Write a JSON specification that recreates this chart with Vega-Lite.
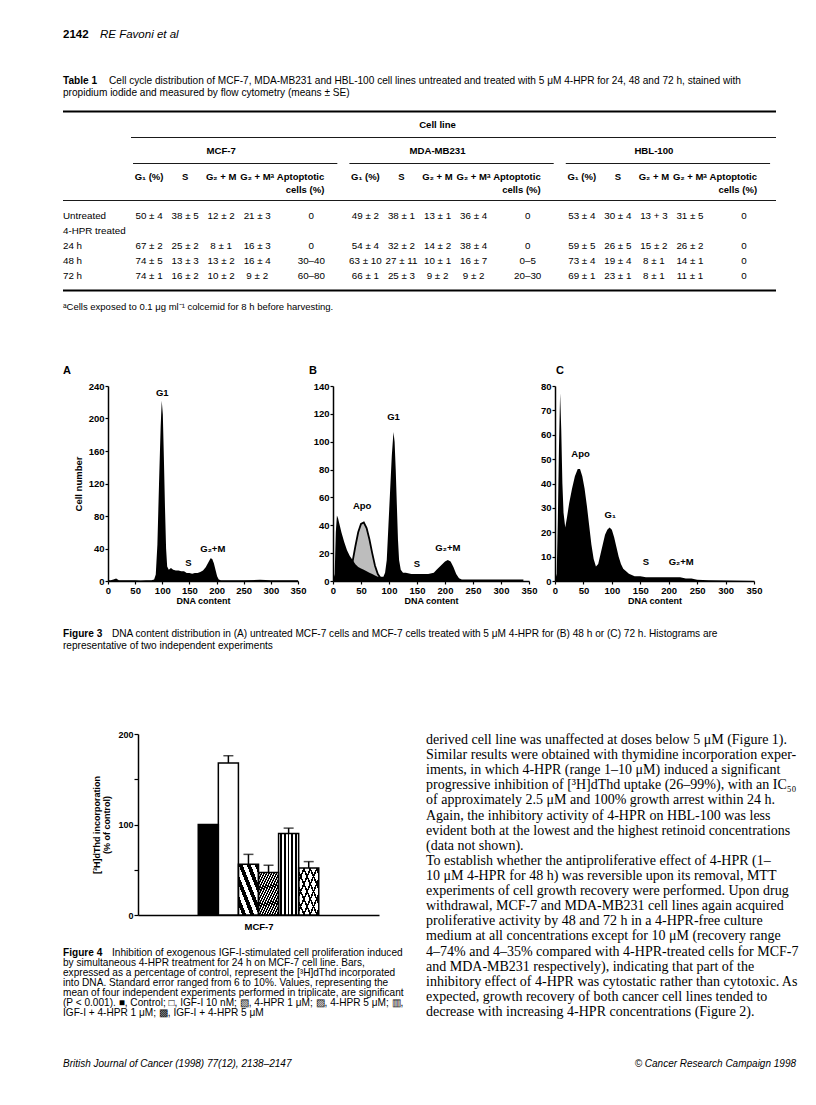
{
"$schema": "https://vega.github.io/schema/vega-lite/v6.json",
"background": "white",
"padding": {"left": 62, "top": 0, "right": 0, "bottom": 0},
"bounds": "flush",
"spacing": 0,
"config": {
  "view": {"stroke": null},
  "font": "Liberation Sans",
  "text": {"font": "Liberation Sans", "color": "black"},
  "axis": {"grid": false, "domainColor": "black", "tickColor": "black", "labelColor": "black", "titleColor": "black", "labelFont": "Liberation Sans", "titleFont": "Liberation Sans"},
  "title": {"font": "Liberation Sans", "color": "black"}
},
"datasets": {
  "header": [{"part": "page", "text": "2142"}, {"part": "author", "text": "RE Favoni et al"}],
  "tableCaption": [
    {"line": 1, "part": "label", "text": "Table 1"},
    {"line": 1, "part": "first", "text": "Cell cycle distribution of MCF-7, MDA-MB231 and HBL-100 cell lines untreated and treated with 5 μM 4-HPR for 24, 48 and 72 h, stained with"},
    {"line": 2, "part": "rest", "text": "propidium iodide and measured by flow cytometry (means ± SE)"}
  ],
  "headRules": [{"row": "top", "kind": "thick"}, {"row": "rule2", "kind": "thin"}],
  "groupRules": [
    {"row": "rule3", "from": "MCF-7 G1", "to": "f11"},
    {"row": "rule3", "from": "MDA-MB231 G1", "to": "f23"},
    {"row": "rule3", "from": "HBL-100 G1", "to": "f35"}
  ],
  "groupLabels": [
    {"row": "cellline", "col": "MDA-MB231 G2M", "text": "Cell line"},
    {"row": "group", "col": "MCF-7 G2M", "text": "MCF-7"},
    {"row": "group", "col": "MDA-MB231 G2M", "text": "MDA-MB231"},
    {"row": "group", "col": "HBL-100 G2M", "text": "HBL-100"}
  ],
  "colHeaders": [
    {"row": "hdr1", "col": "MCF-7 G1", "kind": "phase", "text": "G₁ (%)"},
    {"row": "hdr1", "col": "MCF-7 S", "kind": "phase", "text": "S"},
    {"row": "hdr1", "col": "MCF-7 G2M", "kind": "phase", "text": "G₂ + M"},
    {"row": "hdr1", "col": "MCF-7 G2Ma", "kind": "phase", "text": "G₂ + Mᵃ"},
    {"row": "hdr1", "col": "MCF-7 Apo", "kind": "apo", "text": "Aptoptotic"},
    {"row": "hdr2", "col": "MCF-7 Apo", "kind": "apo", "text": "cells (%)"},
    {"row": "hdr1", "col": "MDA-MB231 G1", "kind": "phase", "text": "G₁ (%)"},
    {"row": "hdr1", "col": "MDA-MB231 S", "kind": "phase", "text": "S"},
    {"row": "hdr1", "col": "MDA-MB231 G2M", "kind": "phase", "text": "G₂ + M"},
    {"row": "hdr1", "col": "MDA-MB231 G2Ma", "kind": "phase", "text": "G₂ + Mᵃ"},
    {"row": "hdr1", "col": "MDA-MB231 Apo", "kind": "apo", "text": "Aptoptotic"},
    {"row": "hdr2", "col": "MDA-MB231 Apo", "kind": "apo", "text": "cells (%)"},
    {"row": "hdr1", "col": "HBL-100 G1", "kind": "phase", "text": "G₁ (%)"},
    {"row": "hdr1", "col": "HBL-100 S", "kind": "phase", "text": "S"},
    {"row": "hdr1", "col": "HBL-100 G2M", "kind": "phase", "text": "G₂ + M"},
    {"row": "hdr1", "col": "HBL-100 G2Ma", "kind": "phase", "text": "G₂ + Mᵃ"},
    {"row": "hdr1", "col": "HBL-100 Apo", "kind": "apo", "text": "Aptoptotic"},
    {"row": "hdr2", "col": "HBL-100 Apo", "kind": "apo", "text": "cells (%)"}
  ],
  "bodyRules": [{"row": "rule4", "kind": "thin"}, {"row": "bottom", "kind": "thick"}],
  "rowLabels": [
    {"row": "untreated", "text": "Untreated"},
    {"row": "hpr", "text": "4-HPR treated"},
    {"row": "24h", "text": "\u00a0\u00a0\u00a024 h"},
    {"row": "48h", "text": "\u00a0\u00a0\u00a048 h"},
    {"row": "72h", "text": "\u00a0\u00a0\u00a072 h"}
  ],
  "tableValues": [
    {"row": "untreated", "col": "MCF-7 G1", "text": "50 ± 4"},
    {"row": "untreated", "col": "MCF-7 S", "text": "38 ± 5"},
    {"row": "untreated", "col": "MCF-7 G2M", "text": "12 ± 2"},
    {"row": "untreated", "col": "MCF-7 G2Ma", "text": "21 ± 3"},
    {"row": "untreated", "col": "MCF-7 Apo", "text": "0"},
    {"row": "untreated", "col": "MDA-MB231 G1", "text": "49 ± 2"},
    {"row": "untreated", "col": "MDA-MB231 S", "text": "38 ± 1"},
    {"row": "untreated", "col": "MDA-MB231 G2M", "text": "13 ± 1"},
    {"row": "untreated", "col": "MDA-MB231 G2Ma", "text": "36 ± 4"},
    {"row": "untreated", "col": "MDA-MB231 Apo", "text": "0"},
    {"row": "untreated", "col": "HBL-100 G1", "text": "53 ± 4"},
    {"row": "untreated", "col": "HBL-100 S", "text": "30 ± 4"},
    {"row": "untreated", "col": "HBL-100 G2M", "text": "13 + 3"},
    {"row": "untreated", "col": "HBL-100 G2Ma", "text": "31 ± 5"},
    {"row": "untreated", "col": "HBL-100 Apo", "text": "0"},
    {"row": "24h", "col": "MCF-7 G1", "text": "67 ± 2"},
    {"row": "24h", "col": "MCF-7 S", "text": "25 ± 2"},
    {"row": "24h", "col": "MCF-7 G2M", "text": "8 ± 1"},
    {"row": "24h", "col": "MCF-7 G2Ma", "text": "16 ± 3"},
    {"row": "24h", "col": "MCF-7 Apo", "text": "0"},
    {"row": "24h", "col": "MDA-MB231 G1", "text": "54 ± 4"},
    {"row": "24h", "col": "MDA-MB231 S", "text": "32 ± 2"},
    {"row": "24h", "col": "MDA-MB231 G2M", "text": "14 ± 2"},
    {"row": "24h", "col": "MDA-MB231 G2Ma", "text": "38 ± 4"},
    {"row": "24h", "col": "MDA-MB231 Apo", "text": "0"},
    {"row": "24h", "col": "HBL-100 G1", "text": "59 ± 5"},
    {"row": "24h", "col": "HBL-100 S", "text": "26 ± 5"},
    {"row": "24h", "col": "HBL-100 G2M", "text": "15 ± 2"},
    {"row": "24h", "col": "HBL-100 G2Ma", "text": "26 ± 2"},
    {"row": "24h", "col": "HBL-100 Apo", "text": "0"},
    {"row": "48h", "col": "MCF-7 G1", "text": "74 ± 5"},
    {"row": "48h", "col": "MCF-7 S", "text": "13 ± 3"},
    {"row": "48h", "col": "MCF-7 G2M", "text": "13 ± 2"},
    {"row": "48h", "col": "MCF-7 G2Ma", "text": "16 ± 4"},
    {"row": "48h", "col": "MCF-7 Apo", "text": "30–40"},
    {"row": "48h", "col": "MDA-MB231 G1", "text": "63 ± 10"},
    {"row": "48h", "col": "MDA-MB231 S", "text": "27 ± 11"},
    {"row": "48h", "col": "MDA-MB231 G2M", "text": "10 ± 1"},
    {"row": "48h", "col": "MDA-MB231 G2Ma", "text": "16 ± 7"},
    {"row": "48h", "col": "MDA-MB231 Apo", "text": "0–5"},
    {"row": "48h", "col": "HBL-100 G1", "text": "73 ± 4"},
    {"row": "48h", "col": "HBL-100 S", "text": "19 ± 4"},
    {"row": "48h", "col": "HBL-100 G2M", "text": "8 ± 1"},
    {"row": "48h", "col": "HBL-100 G2Ma", "text": "14 ± 1"},
    {"row": "48h", "col": "HBL-100 Apo", "text": "0"},
    {"row": "72h", "col": "MCF-7 G1", "text": "74 ± 1"},
    {"row": "72h", "col": "MCF-7 S", "text": "16 ± 2"},
    {"row": "72h", "col": "MCF-7 G2M", "text": "10 ± 2"},
    {"row": "72h", "col": "MCF-7 G2Ma", "text": "9 ± 2"},
    {"row": "72h", "col": "MCF-7 Apo", "text": "60–80"},
    {"row": "72h", "col": "MDA-MB231 G1", "text": "66 ± 1"},
    {"row": "72h", "col": "MDA-MB231 S", "text": "25 ± 3"},
    {"row": "72h", "col": "MDA-MB231 G2M", "text": "9 ± 2"},
    {"row": "72h", "col": "MDA-MB231 G2Ma", "text": "9 ± 2"},
    {"row": "72h", "col": "MDA-MB231 Apo", "text": "20–30"},
    {"row": "72h", "col": "HBL-100 G1", "text": "69 ± 1"},
    {"row": "72h", "col": "HBL-100 S", "text": "23 ± 1"},
    {"row": "72h", "col": "HBL-100 G2M", "text": "8 ± 1"},
    {"row": "72h", "col": "HBL-100 G2Ma", "text": "11 ± 1"},
    {"row": "72h", "col": "HBL-100 Apo", "text": "0"}
  ],
  "footnote": [{"text": "ᵃCells exposed to 0.1 μg ml⁻¹ colcemid for 8 h before harvesting."}],
  "fig3A": [
    {"dna": 0, "count": 1}, {"dna": 5, "count": 1}, {"dna": 10, "count": 2}, {"dna": 15, "count": 3}, {"dna": 20, "count": 1}, {"dna": 30, "count": 1}, {"dna": 40, "count": 1}, {"dna": 50, "count": 1}, {"dna": 60, "count": 0.5}, {"dna": 70, "count": 1}, {"dna": 80, "count": 1}, {"dna": 85, "count": 2}, {"dna": 88, "count": 8}, {"dna": 91, "count": 45}, {"dna": 94, "count": 120}, {"dna": 97, "count": 190}, {"dna": 99, "count": 222}, {"dna": 101, "count": 205}, {"dna": 103, "count": 150}, {"dna": 105, "count": 90}, {"dna": 107, "count": 40}, {"dna": 109, "count": 18}, {"dna": 112, "count": 14}, {"dna": 116, "count": 16}, {"dna": 120, "count": 14}, {"dna": 125, "count": 13}, {"dna": 130, "count": 13}, {"dna": 135, "count": 12}, {"dna": 140, "count": 12}, {"dna": 145, "count": 10}, {"dna": 150, "count": 10}, {"dna": 155, "count": 9}, {"dna": 160, "count": 10}, {"dna": 165, "count": 10}, {"dna": 170, "count": 11}, {"dna": 175, "count": 13}, {"dna": 180, "count": 17}, {"dna": 185, "count": 23}, {"dna": 189, "count": 28}, {"dna": 192, "count": 27}, {"dna": 195, "count": 22}, {"dna": 198, "count": 14}, {"dna": 201, "count": 6}, {"dna": 204, "count": 2}, {"dna": 208, "count": 1}, {"dna": 220, "count": 1}, {"dna": 250, "count": 1}, {"dna": 280, "count": 1.5}, {"dna": 300, "count": 1}, {"dna": 320, "count": 1}, {"dna": 340, "count": 1}, {"dna": 350, "count": 1}
  ],
  "fig3ALabels": [{"dna": 100, "count": 232, "label": "G1"}, {"dna": 148, "count": 22, "label": "S"}, {"dna": 193, "count": 40, "label": "G₂+M"}],
  "fig3B": [
    {"dna": 0, "count": 0}, {"dna": 3, "count": 5}, {"dna": 5, "count": 35}, {"dna": 7, "count": 47}, {"dna": 9, "count": 45}, {"dna": 12, "count": 40}, {"dna": 15, "count": 35}, {"dna": 20, "count": 28}, {"dna": 25, "count": 22}, {"dna": 30, "count": 18}, {"dna": 35, "count": 15}, {"dna": 40, "count": 12}, {"dna": 45, "count": 10}, {"dna": 50, "count": 9}, {"dna": 55, "count": 8}, {"dna": 60, "count": 7}, {"dna": 65, "count": 6}, {"dna": 70, "count": 5}, {"dna": 75, "count": 4}, {"dna": 80, "count": 3}, {"dna": 85, "count": 3}, {"dna": 90, "count": 3}, {"dna": 93, "count": 6}, {"dna": 96, "count": 15}, {"dna": 99, "count": 40}, {"dna": 102, "count": 65}, {"dna": 105, "count": 90}, {"dna": 108, "count": 107}, {"dna": 110, "count": 100}, {"dna": 112, "count": 80}, {"dna": 114, "count": 55}, {"dna": 116, "count": 30}, {"dna": 118, "count": 15}, {"dna": 121, "count": 8}, {"dna": 125, "count": 6}, {"dna": 130, "count": 6}, {"dna": 140, "count": 5}, {"dna": 150, "count": 5}, {"dna": 160, "count": 5}, {"dna": 170, "count": 5}, {"dna": 180, "count": 6}, {"dna": 185, "count": 8}, {"dna": 190, "count": 10}, {"dna": 195, "count": 12}, {"dna": 200, "count": 14}, {"dna": 205, "count": 15}, {"dna": 210, "count": 14}, {"dna": 215, "count": 10}, {"dna": 220, "count": 5}, {"dna": 225, "count": 2}, {"dna": 230, "count": 1}, {"dna": 240, "count": 1}, {"dna": 260, "count": 1}, {"dna": 280, "count": 1}, {"dna": 300, "count": 1}, {"dna": 320, "count": 1}, {"dna": 340, "count": 1}
  ],
  "fig3BFit": [
    {"dna": 25, "count": 2}, {"dna": 30, "count": 6}, {"dna": 35, "count": 14}, {"dna": 40, "count": 25}, {"dna": 45, "count": 35}, {"dna": 50, "count": 41}, {"dna": 55, "count": 42}, {"dna": 60, "count": 38}, {"dna": 65, "count": 30}, {"dna": 70, "count": 20}, {"dna": 75, "count": 11}, {"dna": 80, "count": 5}, {"dna": 85, "count": 2}, {"dna": 90, "count": 1}
  ],
  "fig3BLabels": [{"dna": 52, "count": 54, "label": "Apo"}, {"dna": 108, "count": 118, "label": "G1"}, {"dna": 150, "count": 12, "label": "S"}, {"dna": 205, "count": 24, "label": "G₂+M"}],
  "fig3C": [
    {"dna": 0, "count": 0}, {"dna": 3, "count": 3}, {"dna": 5, "count": 25}, {"dna": 7, "count": 55}, {"dna": 9, "count": 77}, {"dna": 11, "count": 62}, {"dna": 13, "count": 40}, {"dna": 15, "count": 28}, {"dna": 18, "count": 22}, {"dna": 21, "count": 26}, {"dna": 25, "count": 32}, {"dna": 30, "count": 38}, {"dna": 35, "count": 43}, {"dna": 40, "count": 46}, {"dna": 44, "count": 46}, {"dna": 48, "count": 43}, {"dna": 52, "count": 38}, {"dna": 56, "count": 31}, {"dna": 60, "count": 23}, {"dna": 64, "count": 15}, {"dna": 68, "count": 9}, {"dna": 72, "count": 6}, {"dna": 76, "count": 7}, {"dna": 80, "count": 11}, {"dna": 84, "count": 15}, {"dna": 88, "count": 19}, {"dna": 92, "count": 21}, {"dna": 96, "count": 22}, {"dna": 100, "count": 21}, {"dna": 104, "count": 18}, {"dna": 108, "count": 14}, {"dna": 112, "count": 10}, {"dna": 116, "count": 7}, {"dna": 120, "count": 5}, {"dna": 125, "count": 4}, {"dna": 130, "count": 3}, {"dna": 140, "count": 2}, {"dna": 150, "count": 2}, {"dna": 160, "count": 1.5}, {"dna": 170, "count": 1.5}, {"dna": 180, "count": 1.5}, {"dna": 190, "count": 1.5}, {"dna": 200, "count": 1.5}, {"dna": 210, "count": 1.5}, {"dna": 220, "count": 1.5}, {"dna": 230, "count": 1}, {"dna": 240, "count": 1}, {"dna": 250, "count": 0.5}, {"dna": 270, "count": 0.3}, {"dna": 300, "count": 0.2}, {"dna": 350, "count": 0}
  ],
  "fig3CLabels": [{"dna": 45, "count": 52, "label": "Apo"}, {"dna": 97, "count": 27, "label": "G₁"}, {"dna": 160, "count": 8, "label": "S"}, {"dna": 222, "count": 8, "label": "G₂+M"}],
  "fig3Caption": [
    {"line": 1, "part": "label", "text": "Figure 3"},
    {"line": 1, "part": "first", "text": "DNA content distribution in (A) untreated MCF-7 cells and MCF-7 cells treated with 5 μM 4-HPR for (B) 48 h or (C) 72 h. Histograms are"},
    {"line": 2, "part": "rest", "text": "representative of two independent experiments"}
  ],
  "fig4": [
    {"cell": "MCF-7", "treatment": "Control", "value": 100, "upper": 100},
    {"cell": "MCF-7", "treatment": "IGF-I 10 nM", "value": 168, "upper": 176},
    {"cell": "MCF-7", "treatment": "4-HPR 1 μM", "value": 56, "upper": 67},
    {"cell": "MCF-7", "treatment": "4-HPR 5 μM", "value": 47, "upper": 55},
    {"cell": "MCF-7", "treatment": "IGF-I + 4-HPR 1 μM", "value": 90, "upper": 96},
    {"cell": "MCF-7", "treatment": "IGF-I + 4-HPR 5 μM", "value": 52, "upper": 59}
  ],
  "fig4Caption": [
    {"line": 1, "part": "label", "text": "Figure 4"},
    {"line": 1, "part": "first", "text": "Inhibition of exogenous IGF-I-stimulated cell proliferation induced"},
    {"line": 2, "part": "rest", "text": "by simultaneous 4-HPR treatment for 24 h on MCF-7 cell line. Bars,"},
    {"line": 3, "part": "rest", "text": "expressed as a percentage of control, represent the [³H]dThd incorporated"},
    {"line": 4, "part": "rest", "text": "into DNA. Standard error ranged from 6 to 10%. Values, representing the"},
    {"line": 5, "part": "rest", "text": "mean of four independent experiments performed in triplicate, are significant"},
    {"line": 6, "part": "rest", "text": "(P < 0.001). ■, Control; □, IGF-I 10 nM; ▧, 4-HPR 1 μM; ▨, 4-HPR 5 μM; ▥,"},
    {"line": 7, "part": "rest", "text": "IGF-I + 4-HPR 1 μM; ▩, IGF-I + 4-HPR 5 μM"}
  ],
  "bodyText": [
    {"line": 1, "text": "derived cell line was unaffected at doses below 5 μM (Figure 1)."},
    {"line": 2, "text": "Similar results were obtained with thymidine incorporation exper-"},
    {"line": 3, "text": "iments, in which 4-HPR (range 1–10 μM) induced a significant"},
    {"line": 4, "text": "progressive inhibition of [³H]dThd uptake (26–99%), with an IC₅₀"},
    {"line": 5, "text": "of approximately 2.5 μM and 100% growth arrest within 24 h."},
    {"line": 6, "text": "Again, the inhibitory activity of 4-HPR on HBL-100 was less"},
    {"line": 7, "text": "evident both at the lowest and the highest retinoid concentrations"},
    {"line": 8, "text": "(data not shown)."},
    {"line": 9, "text": "\u00a0\u00a0\u00a0To establish whether the antiproliferative effect of 4-HPR (1–"},
    {"line": 10, "text": "10 μM 4-HPR for 48 h) was reversible upon its removal, MTT"},
    {"line": 11, "text": "experiments of cell growth recovery were performed. Upon drug"},
    {"line": 12, "text": "withdrawal, MCF-7 and MDA-MB231 cell lines again acquired"},
    {"line": 13, "text": "proliferative activity by 48 and 72 h in a 4-HPR-free culture"},
    {"line": 14, "text": "medium at all concentrations except for 10 μM (recovery range"},
    {"line": 15, "text": "4–74% and 4–35% compared with 4-HPR-treated cells for MCF-7"},
    {"line": 16, "text": "and MDA-MB231 respectively), indicating that part of the"},
    {"line": 17, "text": "inhibitory effect of 4-HPR was cytostatic rather than cytotoxic. As"},
    {"line": 18, "text": "expected, growth recovery of both cancer cell lines tended to"},
    {"line": 19, "text": "decrease with increasing 4-HPR concentrations (Figure 2)."}
  ],
  "footer": [{"side": "left", "text": "British Journal of Cancer (1998) 77(12), 2138–2147"}, {"side": "right", "text": "© Cancer Research Campaign 1998"}]
},
"vconcat": [
  {
    "width": 754, "height": 70, "data": {"name": "header"},
    "encoding": {"x": {"datum": 0, "type": "quantitative", "scale": {"domain": [0, 1]}, "axis": null}, "text": {"field": "text"}},
    "layer": [
      {"transform": [{"filter": "datum.part == 'page'"}], "mark": {"type": "text", "align": "left", "baseline": "middle", "fontSize": 11.5, "fontWeight": "bold"}},
      {"transform": [{"filter": "datum.part == 'author'"}], "mark": {"type": "text", "align": "left", "baseline": "middle", "fontSize": 11.5, "fontStyle": "italic", "dx": 37}}
    ]
  },
  {
    "width": 754, "height": 34.5, "data": {"name": "tableCaption"},
    "encoding": {
      "x": {"datum": 0, "type": "quantitative", "scale": {"domain": [0, 1]}, "axis": null},
      "y": {"field": "line", "type": "ordinal", "scale": {"type": "point", "padding": 0.9375}, "axis": null},
      "text": {"field": "text"}
    },
    "layer": [
      {"transform": [{"filter": "datum.part == 'label'"}], "mark": {"type": "text", "align": "left", "baseline": "middle", "fontSize": 10.1, "fontWeight": "bold"}},
      {"transform": [{"filter": "datum.part == 'first'"}], "mark": {"type": "text", "align": "left", "baseline": "middle", "fontSize": 10.1, "dx": 46}},
      {"transform": [{"filter": "datum.part == 'rest'"}], "mark": {"type": "text", "align": "left", "baseline": "middle", "fontSize": 10.1}}
    ]
  },
  {
    "hconcat": [
      {
        "width": 68, "height": 91,
        "encoding": {"y": {"field": "row", "type": "ordinal", "scale": {"type": "point", "domain": ["top", "cellline", "rule2", "group", "rule3", "hdr1", "hdr2"], "padding": 0.5}, "axis": null}},
        "layer": [
          {"data": {"name": "headRules"}, "transform": [{"filter": "datum.kind == 'thick'"}], "mark": {"type": "rule", "strokeWidth": 2, "color": "black"}}
        ]
      },
      {
        "width": 645, "height": 91,
        "encoding": {"y": {"field": "row", "type": "ordinal", "scale": {"type": "point", "domain": ["top", "cellline", "rule2", "group", "rule3", "hdr1", "hdr2"], "padding": 0.5}, "axis": null}},
        "layer": [
          {"data": {"name": "headRules"}, "transform": [{"filter": "datum.kind == 'thick'"}], "mark": {"type": "rule", "strokeWidth": 2, "color": "black"}},
          {"data": {"name": "headRules"}, "transform": [{"filter": "datum.kind == 'thin'"}], "mark": {"type": "rule", "strokeWidth": 0.9, "color": "black"}},
          {"data": {"name": "groupRules"}, "mark": {"type": "rule", "strokeWidth": 0.9, "color": "black", "xOffset": -16, "x2Offset": 8},
           "encoding": {"x": {"field": "from", "type": "nominal", "scale": {"type": "point", "domain": ["f0", "MCF-7 G1", "f2", "MCF-7 S", "f4", "MCF-7 G2M", "f6", "MCF-7 G2Ma", "f8", "f9", "MCF-7 Apo", "f11", "f12", "MDA-MB231 G1", "f14", "MDA-MB231 S", "f16", "MDA-MB231 G2M", "f18", "MDA-MB231 G2Ma", "f20", "f21", "MDA-MB231 Apo", "f23", "f24", "HBL-100 G1", "f26", "HBL-100 S", "f28", "HBL-100 G2M", "f30", "HBL-100 G2Ma", "f32", "f33", "HBL-100 Apo", "f35"], "padding": 0.386, "align": 0}, "axis": null}, "x2": {"field": "to"}}},
          {"data": {"name": "groupLabels"}, "mark": {"type": "text", "baseline": "middle", "fontSize": 9.6, "fontWeight": "bold"},
           "encoding": {"x": {"field": "col", "type": "nominal", "scale": {"type": "point", "domain": ["f0", "MCF-7 G1", "f2", "MCF-7 S", "f4", "MCF-7 G2M", "f6", "MCF-7 G2Ma", "f8", "f9", "MCF-7 Apo", "f11", "f12", "MDA-MB231 G1", "f14", "MDA-MB231 S", "f16", "MDA-MB231 G2M", "f18", "MDA-MB231 G2Ma", "f20", "f21", "MDA-MB231 Apo", "f23", "f24", "HBL-100 G1", "f26", "HBL-100 S", "f28", "HBL-100 G2M", "f30", "HBL-100 G2Ma", "f32", "f33", "HBL-100 Apo", "f35"], "padding": 0.386, "align": 0}, "axis": null}, "text": {"field": "text"}}},
          {"data": {"name": "colHeaders"}, "transform": [{"filter": "datum.kind == 'phase'"}], "mark": {"type": "text", "baseline": "middle", "fontSize": 9.5, "fontWeight": "bold"},
           "encoding": {"x": {"field": "col", "type": "nominal", "scale": {"type": "point", "domain": ["f0", "MCF-7 G1", "f2", "MCF-7 S", "f4", "MCF-7 G2M", "f6", "MCF-7 G2Ma", "f8", "f9", "MCF-7 Apo", "f11", "f12", "MDA-MB231 G1", "f14", "MDA-MB231 S", "f16", "MDA-MB231 G2M", "f18", "MDA-MB231 G2Ma", "f20", "f21", "MDA-MB231 Apo", "f23", "f24", "HBL-100 G1", "f26", "HBL-100 S", "f28", "HBL-100 G2M", "f30", "HBL-100 G2Ma", "f32", "f33", "HBL-100 Apo", "f35"], "padding": 0.386, "align": 0}, "axis": null}, "text": {"field": "text"}}},
          {"data": {"name": "colHeaders"}, "transform": [{"filter": "datum.kind == 'apo'"}], "mark": {"type": "text", "baseline": "middle", "align": "right", "dx": 13, "fontSize": 9.5, "fontWeight": "bold"},
           "encoding": {"x": {"field": "col", "type": "nominal", "scale": {"type": "point", "domain": ["f0", "MCF-7 G1", "f2", "MCF-7 S", "f4", "MCF-7 G2M", "f6", "MCF-7 G2Ma", "f8", "f9", "MCF-7 Apo", "f11", "f12", "MDA-MB231 G1", "f14", "MDA-MB231 S", "f16", "MDA-MB231 G2M", "f18", "MDA-MB231 G2Ma", "f20", "f21", "MDA-MB231 Apo", "f23", "f24", "HBL-100 G1", "f26", "HBL-100 S", "f28", "HBL-100 G2M", "f30", "HBL-100 G2Ma", "f32", "f33", "HBL-100 Apo", "f35"], "padding": 0.386, "align": 0}, "axis": null}, "text": {"field": "text"}}}
        ]
      }
    ],
    "spacing": 0, "bounds": "flush"
  },
  {"width": 10, "height": 91, "data": {"values": [{"s": 1}]}, "mark": {"type": "point", "opacity": 0}},
  {
    "hconcat": [
      {
        "width": 68, "height": 99,
        "encoding": {"y": {"field": "row", "type": "ordinal", "scale": {"type": "point", "domain": ["rule4", "untreated", "hpr", "24h", "48h", "72h", "bottom"], "padding": 0.3}, "axis": null}},
        "layer": [
          {"data": {"name": "bodyRules"}, "transform": [{"filter": "datum.kind == 'thick'"}], "mark": {"type": "rule", "strokeWidth": 2, "color": "black"}},
          {"data": {"name": "bodyRules"}, "transform": [{"filter": "datum.kind == 'thin'"}], "mark": {"type": "rule", "strokeWidth": 0.9, "color": "black"}},
          {"data": {"name": "rowLabels"}, "mark": {"type": "text", "align": "left", "baseline": "middle", "fontSize": 9.8},
           "encoding": {"x": {"datum": 0, "type": "quantitative", "scale": {"domain": [0, 1]}, "axis": null}, "text": {"field": "text"}}}
        ]
      },
      {
        "width": 645, "height": 99,
        "encoding": {"y": {"field": "row", "type": "ordinal", "scale": {"type": "point", "domain": ["rule4", "untreated", "hpr", "24h", "48h", "72h", "bottom"], "padding": 0.3}, "axis": null}},
        "layer": [
          {"data": {"name": "bodyRules"}, "transform": [{"filter": "datum.kind == 'thick'"}], "mark": {"type": "rule", "strokeWidth": 2, "color": "black"}},
          {"data": {"name": "bodyRules"}, "transform": [{"filter": "datum.kind == 'thin'"}], "mark": {"type": "rule", "strokeWidth": 0.9, "color": "black"}},
          {"data": {"name": "tableValues"}, "mark": {"type": "text", "baseline": "middle", "fontSize": 9.8},
           "encoding": {"x": {"field": "col", "type": "nominal", "scale": {"type": "point", "domain": ["f0", "MCF-7 G1", "f2", "MCF-7 S", "f4", "MCF-7 G2M", "f6", "MCF-7 G2Ma", "f8", "f9", "MCF-7 Apo", "f11", "f12", "MDA-MB231 G1", "f14", "MDA-MB231 S", "f16", "MDA-MB231 G2M", "f18", "MDA-MB231 G2Ma", "f20", "f21", "MDA-MB231 Apo", "f23", "f24", "HBL-100 G1", "f26", "HBL-100 S", "f28", "HBL-100 G2M", "f30", "HBL-100 G2Ma", "f32", "f33", "HBL-100 Apo", "f35"], "padding": 0.386, "align": 0}, "axis": null}, "text": {"field": "text"}}}
        ]
      }
    ],
    "spacing": 0, "bounds": "flush"
  },
  {"width": 10, "height": 99, "data": {"values": [{"s": 1}]}, "mark": {"type": "point", "opacity": 0}},
  {
    "width": 754, "height": 23, "data": {"name": "footnote"},
    "mark": {"type": "text", "align": "left", "baseline": "middle", "fontSize": 9.5},
    "encoding": {"x": {"datum": 0, "type": "quantitative", "scale": {"domain": [0, 1]}, "axis": null}, "text": {"field": "text"}}
  },
  {"width": 10, "height": 67.5, "data": {"values": [{"s": 1}]}, "mark": {"type": "point", "opacity": 0}},
  {
    "hconcat": [
      {"width": 45, "height": 195, "data": {"values": [{"s": 1}]}, "mark": {"type": "point", "opacity": 0}},
      {
        "width": 190, "height": 195,
        "title": {"text": "A", "anchor": "start", "frame": "group", "dx": -45, "fontSize": 11, "fontWeight": "bold", "offset": 5},
        "encoding": {
          "x": {"field": "dna", "type": "quantitative", "scale": {"domain": [0, 350], "nice": false}, "axis": {"values": [0, 50, 100, 150, 200, 250, 300, 350], "title": "DNA content", "titleFontSize": 9, "titleFontWeight": "bold", "titlePadding": 2, "labelFontSize": 9.5, "labelFontWeight": "bold", "labelPadding": 1, "labelFlush": false, "labelOverlap": false, "tickSize": 3, "tickWidth": 1.2, "domainWidth": 1.5}},
          "y": {"field": "count", "type": "quantitative", "scale": {"domain": [0, 240], "nice": false}, "axis": {"values": [0, 40, 80, 120, 160, 200, 240], "title": "Cell number", "titleFontSize": 9.5, "titleFontWeight": "bold", "titlePadding": 5, "labelFontSize": 9.5, "labelFontWeight": "bold", "labelPadding": 1, "labelOverlap": false, "tickSize": 3, "tickWidth": 1.2, "domainWidth": 1.5}}
        },
        "layer": [
          {"data": {"name": "fig3A"}, "mark": {"type": "area", "color": "black"}},
          {"data": {"name": "fig3ALabels"}, "mark": {"type": "text", "baseline": "middle", "fontSize": 9.5, "fontWeight": "bold"}, "encoding": {"text": {"field": "label"}}}
        ]
      },
      {"width": 35, "height": 195, "data": {"values": [{"s": 1}]}, "mark": {"type": "point", "opacity": 0}},
      {
        "width": 196, "height": 195,
        "title": {"text": "B", "anchor": "start", "frame": "group", "dx": -24, "fontSize": 11, "fontWeight": "bold", "offset": 5},
        "encoding": {
          "x": {"field": "dna", "type": "quantitative", "scale": {"domain": [0, 350], "nice": false}, "axis": {"values": [0, 50, 100, 150, 200, 250, 300, 350], "title": "DNA content", "titleFontSize": 9, "titleFontWeight": "bold", "titlePadding": 2, "labelFontSize": 9.5, "labelFontWeight": "bold", "labelPadding": 1, "labelFlush": false, "labelOverlap": false, "tickSize": 3, "tickWidth": 1.2, "domainWidth": 1.5}},
          "y": {"field": "count", "type": "quantitative", "scale": {"domain": [0, 140], "nice": false}, "axis": {"values": [0, 20, 40, 60, 80, 100, 120, 140], "title": null, "labelFontSize": 9.5, "labelFontWeight": "bold", "labelPadding": 1, "labelOverlap": false, "tickSize": 3, "tickWidth": 1.2, "domainWidth": 1.5}}
        },
        "layer": [
          {"data": {"name": "fig3BFit"}, "mark": {"type": "area", "color": "#bdbdbd"}},
          {"data": {"name": "fig3B"}, "mark": {"type": "area", "color": "black"}},
          {"data": {"name": "fig3BFit"}, "mark": {"type": "line", "color": "black", "strokeWidth": 1.8}},
          {"data": {"name": "fig3BLabels"}, "mark": {"type": "text", "baseline": "middle", "fontSize": 9.5, "fontWeight": "bold"}, "encoding": {"text": {"field": "label"}}}
        ]
      },
      {"width": 26, "height": 195, "data": {"values": [{"s": 1}]}, "mark": {"type": "point", "opacity": 0}},
      {
        "width": 199, "height": 195,
        "title": {"text": "C", "anchor": "start", "frame": "group", "dx": 1, "fontSize": 11, "fontWeight": "bold", "offset": 5},
        "encoding": {
          "x": {"field": "dna", "type": "quantitative", "scale": {"domain": [0, 350], "nice": false}, "axis": {"values": [0, 50, 100, 150, 200, 250, 300, 350], "title": "DNA content", "titleFontSize": 9, "titleFontWeight": "bold", "titlePadding": 2, "labelFontSize": 9.5, "labelFontWeight": "bold", "labelPadding": 1, "labelFlush": false, "labelOverlap": false, "tickSize": 3, "tickWidth": 1.2, "domainWidth": 1.5}},
          "y": {"field": "count", "type": "quantitative", "scale": {"domain": [0, 80], "nice": false}, "axis": {"values": [0, 10, 20, 30, 40, 50, 60, 70, 80], "title": null, "labelFontSize": 9.5, "labelFontWeight": "bold", "labelPadding": 1, "labelOverlap": false, "tickSize": 3, "tickWidth": 1.2, "domainWidth": 1.5}}
        },
        "layer": [
          {"data": {"name": "fig3C"}, "mark": {"type": "area", "color": "black"}},
          {"data": {"name": "fig3CLabels"}, "mark": {"type": "text", "baseline": "middle", "fontSize": 9.5, "fontWeight": "bold"}, "encoding": {"text": {"field": "label"}}}
        ]
      }
    ],
    "spacing": 0, "bounds": "flush"
  },
  {"width": 10, "height": 242, "data": {"values": [{"s": 1}]}, "mark": {"type": "point", "opacity": 0}},
  {
    "width": 754, "height": 24, "data": {"name": "fig3Caption"},
    "encoding": {
      "x": {"datum": 0, "type": "quantitative", "scale": {"domain": [0, 1]}, "axis": null},
      "y": {"field": "line", "type": "ordinal", "scale": {"type": "point", "padding": 0.5}, "axis": null},
      "text": {"field": "text"}
    },
    "layer": [
      {"transform": [{"filter": "datum.part == 'label'"}], "mark": {"type": "text", "align": "left", "baseline": "middle", "fontSize": 10.1, "fontWeight": "bold"}},
      {"transform": [{"filter": "datum.part == 'first'"}], "mark": {"type": "text", "align": "left", "baseline": "middle", "fontSize": 10.1, "dx": 49}},
      {"transform": [{"filter": "datum.part == 'rest'"}], "mark": {"type": "text", "align": "left", "baseline": "middle", "fontSize": 10.1}}
    ]
  },
  {"width": 10, "height": 82, "data": {"values": [{"s": 1}]}, "mark": {"type": "point", "opacity": 0}},
  {
    "hconcat": [
      {"width": 75, "height": 181, "data": {"values": [{"s": 1}]}, "mark": {"type": "point", "opacity": 0}},
      {
        "width": 241, "height": 181, "data": {"name": "fig4"},
        "encoding": {
          "x": {"field": "treatment", "type": "nominal", "scale": {"type": "band", "domain": ["l1", "l2", "l3", "Control", "IGF-I 10 nM", "4-HPR 1 μM", "4-HPR 5 μM", "IGF-I + 4-HPR 1 μM", "IGF-I + 4-HPR 5 μM", "r1", "r2", "r3"], "paddingInner": 0, "paddingOuter": 0}, "axis": {"title": "MCF-7", "titleFontSize": 9.5, "titleFontWeight": "bold", "titlePadding": 6, "labels": false, "ticks": false, "domainWidth": 1.5}},
          "y": {"field": "value", "type": "quantitative", "scale": {"domain": [0, 200], "nice": false}, "axis": {"values": [0, 50, 100, 150, 200], "labelExpr": "datum.value % 100 == 0 ? datum.label : ''", "title": ["[³H]dThd incorporation", "(% of control)"], "titleFontSize": 9, "titleFontWeight": "bold", "titlePadding": 6, "titleLineHeight": 10, "labelFontSize": 9, "labelFontWeight": "bold", "labelPadding": 1, "tickSize": 4, "tickWidth": 1.2, "domainWidth": 1.5}}
        },
        "layer": [
          {"mark": {"type": "bar", "fill": "white"}},
          {"transform": [{"filter": "datum.treatment == 'Control'"}], "mark": {"type": "bar", "fill": "black"}},
          {"transform": [{"filter": "datum.treatment == '4-HPR 1 μM'"}], "mark": {"type": "bar", "fill": {"gradient": "linear", "x1": 0, "y1": 1, "x2": 1, "y2": 0, "stops": [
            {"offset": 0, "color": "white"}, {"offset": 0.1, "color": "white"}, {"offset": 0.1, "color": "black"}, {"offset": 0.2, "color": "black"},
            {"offset": 0.2, "color": "white"}, {"offset": 0.3, "color": "white"}, {"offset": 0.3, "color": "black"}, {"offset": 0.4, "color": "black"},
            {"offset": 0.4, "color": "white"}, {"offset": 0.5, "color": "white"}, {"offset": 0.5, "color": "black"}, {"offset": 0.6, "color": "black"},
            {"offset": 0.6, "color": "white"}, {"offset": 0.7, "color": "white"}, {"offset": 0.7, "color": "black"}, {"offset": 0.8, "color": "black"},
            {"offset": 0.8, "color": "white"}, {"offset": 0.9, "color": "white"}, {"offset": 0.9, "color": "black"}, {"offset": 1, "color": "black"}]}}},
          {"transform": [{"filter": "datum.treatment == '4-HPR 5 μM'"}], "mark": {"type": "bar", "fill": {"gradient": "linear", "x1": 0, "y1": 0, "x2": 1, "y2": 1, "stops": [
            {"offset": 0, "color": "black"}, {"offset": 0.04, "color": "black"}, {"offset": 0.04, "color": "white"}, {"offset": 0.0625, "color": "white"},
            {"offset": 0.0625, "color": "black"}, {"offset": 0.1025, "color": "black"}, {"offset": 0.1025, "color": "white"}, {"offset": 0.125, "color": "white"},
            {"offset": 0.125, "color": "black"}, {"offset": 0.165, "color": "black"}, {"offset": 0.165, "color": "white"}, {"offset": 0.1875, "color": "white"},
            {"offset": 0.1875, "color": "black"}, {"offset": 0.2275, "color": "black"}, {"offset": 0.2275, "color": "white"}, {"offset": 0.25, "color": "white"},
            {"offset": 0.25, "color": "black"}, {"offset": 0.29, "color": "black"}, {"offset": 0.29, "color": "white"}, {"offset": 0.3125, "color": "white"},
            {"offset": 0.3125, "color": "black"}, {"offset": 0.3525, "color": "black"}, {"offset": 0.3525, "color": "white"}, {"offset": 0.375, "color": "white"},
            {"offset": 0.375, "color": "black"}, {"offset": 0.415, "color": "black"}, {"offset": 0.415, "color": "white"}, {"offset": 0.4375, "color": "white"},
            {"offset": 0.4375, "color": "black"}, {"offset": 0.4775, "color": "black"}, {"offset": 0.4775, "color": "white"}, {"offset": 0.5, "color": "white"},
            {"offset": 0.5, "color": "black"}, {"offset": 0.54, "color": "black"}, {"offset": 0.54, "color": "white"}, {"offset": 0.5625, "color": "white"},
            {"offset": 0.5625, "color": "black"}, {"offset": 0.6025, "color": "black"}, {"offset": 0.6025, "color": "white"}, {"offset": 0.625, "color": "white"},
            {"offset": 0.625, "color": "black"}, {"offset": 0.665, "color": "black"}, {"offset": 0.665, "color": "white"}, {"offset": 0.6875, "color": "white"},
            {"offset": 0.6875, "color": "black"}, {"offset": 0.7275, "color": "black"}, {"offset": 0.7275, "color": "white"}, {"offset": 0.75, "color": "white"},
            {"offset": 0.75, "color": "black"}, {"offset": 0.79, "color": "black"}, {"offset": 0.79, "color": "white"}, {"offset": 0.8125, "color": "white"},
            {"offset": 0.8125, "color": "black"}, {"offset": 0.8525, "color": "black"}, {"offset": 0.8525, "color": "white"}, {"offset": 0.875, "color": "white"},
            {"offset": 0.875, "color": "black"}, {"offset": 0.915, "color": "black"}, {"offset": 0.915, "color": "white"}, {"offset": 0.9375, "color": "white"},
            {"offset": 0.9375, "color": "black"}, {"offset": 0.9775, "color": "black"}, {"offset": 0.9775, "color": "white"}, {"offset": 1, "color": "white"}]}}},
          {"transform": [{"filter": "datum.treatment == 'IGF-I + 4-HPR 1 μM'"}], "mark": {"type": "bar", "fill": {"gradient": "linear", "x1": 0, "y1": 0, "x2": 1, "y2": 0, "stops": [
            {"offset": 0, "color": "white"}, {"offset": 0.09, "color": "white"}, {"offset": 0.09, "color": "black"}, {"offset": 0.18, "color": "black"},
            {"offset": 0.18, "color": "white"}, {"offset": 0.27, "color": "white"}, {"offset": 0.27, "color": "black"}, {"offset": 0.36, "color": "black"},
            {"offset": 0.36, "color": "white"}, {"offset": 0.45, "color": "white"}, {"offset": 0.45, "color": "black"}, {"offset": 0.54, "color": "black"},
            {"offset": 0.54, "color": "white"}, {"offset": 0.63, "color": "white"}, {"offset": 0.63, "color": "black"}, {"offset": 0.72, "color": "black"},
            {"offset": 0.72, "color": "white"}, {"offset": 0.81, "color": "white"}, {"offset": 0.81, "color": "black"}, {"offset": 0.9, "color": "black"},
            {"offset": 0.9, "color": "white"}, {"offset": 1, "color": "white"}]}}},
          {"transform": [{"filter": "datum.treatment == 'IGF-I + 4-HPR 5 μM'"}], "mark": {"type": "bar", "fill": {"gradient": "linear", "x1": 0, "y1": 0, "x2": 1, "y2": 1, "stops": [
            {"offset": 0, "color": "rgba(255,255,255,0)"}, {"offset": 0.12, "color": "rgba(255,255,255,0)"}, {"offset": 0.12, "color": "black"}, {"offset": 0.16, "color": "black"},
            {"offset": 0.16, "color": "rgba(255,255,255,0)"}, {"offset": 0.28, "color": "rgba(255,255,255,0)"}, {"offset": 0.28, "color": "black"}, {"offset": 0.32, "color": "black"},
            {"offset": 0.32, "color": "rgba(255,255,255,0)"}, {"offset": 0.44, "color": "rgba(255,255,255,0)"}, {"offset": 0.44, "color": "black"}, {"offset": 0.48, "color": "black"},
            {"offset": 0.48, "color": "rgba(255,255,255,0)"}, {"offset": 0.6, "color": "rgba(255,255,255,0)"}, {"offset": 0.6, "color": "black"}, {"offset": 0.64, "color": "black"},
            {"offset": 0.64, "color": "rgba(255,255,255,0)"}, {"offset": 0.76, "color": "rgba(255,255,255,0)"}, {"offset": 0.76, "color": "black"}, {"offset": 0.8, "color": "black"},
            {"offset": 0.8, "color": "rgba(255,255,255,0)"}, {"offset": 0.92, "color": "rgba(255,255,255,0)"}, {"offset": 0.92, "color": "black"}, {"offset": 0.96, "color": "black"},
            {"offset": 0.96, "color": "rgba(255,255,255,0)"}, {"offset": 1, "color": "rgba(255,255,255,0)"}]}}},
          {"transform": [{"filter": "datum.treatment == 'IGF-I + 4-HPR 5 μM'"}], "mark": {"type": "bar", "fill": {"gradient": "linear", "x1": 0, "y1": 1, "x2": 1, "y2": 0, "stops": [
            {"offset": 0, "color": "rgba(255,255,255,0)"}, {"offset": 0.12, "color": "rgba(255,255,255,0)"}, {"offset": 0.12, "color": "black"}, {"offset": 0.16, "color": "black"},
            {"offset": 0.16, "color": "rgba(255,255,255,0)"}, {"offset": 0.28, "color": "rgba(255,255,255,0)"}, {"offset": 0.28, "color": "black"}, {"offset": 0.32, "color": "black"},
            {"offset": 0.32, "color": "rgba(255,255,255,0)"}, {"offset": 0.44, "color": "rgba(255,255,255,0)"}, {"offset": 0.44, "color": "black"}, {"offset": 0.48, "color": "black"},
            {"offset": 0.48, "color": "rgba(255,255,255,0)"}, {"offset": 0.6, "color": "rgba(255,255,255,0)"}, {"offset": 0.6, "color": "black"}, {"offset": 0.64, "color": "black"},
            {"offset": 0.64, "color": "rgba(255,255,255,0)"}, {"offset": 0.76, "color": "rgba(255,255,255,0)"}, {"offset": 0.76, "color": "black"}, {"offset": 0.8, "color": "black"},
            {"offset": 0.8, "color": "rgba(255,255,255,0)"}, {"offset": 0.92, "color": "rgba(255,255,255,0)"}, {"offset": 0.92, "color": "black"}, {"offset": 0.96, "color": "black"},
            {"offset": 0.96, "color": "rgba(255,255,255,0)"}, {"offset": 1, "color": "rgba(255,255,255,0)"}]}}},
          {"mark": {"type": "bar", "fillOpacity": 0, "stroke": "black", "strokeWidth": 1.5}},
          {"transform": [{"filter": "datum.upper > datum.value"}], "mark": {"type": "rule", "color": "black", "strokeWidth": 1.5}, "encoding": {"y2": {"field": "upper"}}},
          {"transform": [{"filter": "datum.upper > datum.value"}], "mark": {"type": "tick", "color": "black", "thickness": 1.5, "size": 10},
           "encoding": {"y": {"field": "upper", "type": "quantitative", "axis": {"values": [0, 50, 100, 150, 200], "labelExpr": "datum.value % 100 == 0 ? datum.label : ''", "title": ["[³H]dThd incorporation", "(% of control)"], "titleFontSize": 9, "titleFontWeight": "bold", "titlePadding": 6, "titleLineHeight": 10, "labelFontSize": 9, "labelFontWeight": "bold", "labelPadding": 1, "tickSize": 4, "tickWidth": 1.2, "domainWidth": 1.5}}}}
        ]
      },
      {"width": 47, "height": 181, "data": {"values": [{"s": 1}]}, "mark": {"type": "point", "opacity": 0}},
      {
        "width": 370, "height": 284, "data": {"name": "bodyText"},
        "mark": {"type": "text", "align": "left", "baseline": "middle", "font": "Liberation Serif", "fontSize": 14},
        "encoding": {
          "x": {"datum": 0, "type": "quantitative", "scale": {"domain": [0, 1]}, "axis": null},
          "y": {"field": "line", "type": "ordinal", "scale": {"type": "point", "padding": 0.4}, "axis": null},
          "text": {"field": "text"}
        }
      }
    ],
    "spacing": 0, "bounds": "flush"
  },
  {"width": 10, "height": 214, "data": {"values": [{"s": 1}]}, "mark": {"type": "point", "opacity": 0}},
  {
    "width": 340, "height": 70, "data": {"name": "fig4Caption"},
    "encoding": {
      "x": {"datum": 0, "type": "quantitative", "scale": {"domain": [0, 1]}, "axis": null},
      "y": {"field": "line", "type": "ordinal", "scale": {"type": "point", "padding": 0.5}, "axis": null},
      "text": {"field": "text"}
    },
    "layer": [
      {"transform": [{"filter": "datum.part == 'label'"}], "mark": {"type": "text", "align": "left", "baseline": "middle", "fontSize": 10.1, "fontWeight": "bold"}},
      {"transform": [{"filter": "datum.part == 'first'"}], "mark": {"type": "text", "align": "left", "baseline": "middle", "fontSize": 10.1, "dx": 49}},
      {"transform": [{"filter": "datum.part == 'rest'"}], "mark": {"type": "text", "align": "left", "baseline": "middle", "fontSize": 10.1}}
    ]
  },
  {"width": 10, "height": 35, "data": {"values": [{"s": 1}]}, "mark": {"type": "point", "opacity": 0}},
  {
    "width": 733, "height": 22, "data": {"name": "footer"},
    "encoding": {"text": {"field": "text"}},
    "layer": [
      {"transform": [{"filter": "datum.side == 'left'"}], "mark": {"type": "text", "align": "left", "baseline": "middle", "fontSize": 10, "fontStyle": "italic"},
       "encoding": {"x": {"datum": 0, "type": "quantitative", "scale": {"domain": [0, 1]}, "axis": null}}},
      {"transform": [{"filter": "datum.side == 'right'"}], "mark": {"type": "text", "align": "right", "baseline": "middle", "fontSize": 10, "fontStyle": "italic"},
       "encoding": {"x": {"datum": 1, "type": "quantitative", "scale": {"domain": [0, 1]}, "axis": null}}}
    ]
  }
]
}
